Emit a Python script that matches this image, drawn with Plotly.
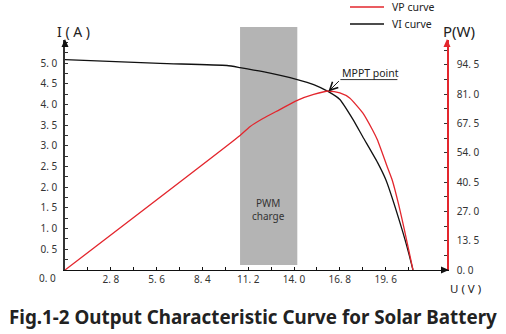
import plotly.graph_objects as go

# VI curve: module current (A) against terminal voltage (V)
vi_u = [0, 5.8, 9.9, 10.7, 12.1, 14.2, 15.2, 16.1, 16.8, 17.6, 18.2, 19.1, 19.6, 20.6, 21.0, 21.27]
vi_i = [5.08, 4.99, 4.94, 4.89, 4.79, 4.60, 4.48, 4.31, 4.12, 3.64, 3.22, 2.60, 2.19, 0.98, 0.42, 0.0]

# VP curve: output power (W) against terminal voltage (V)
vp_u = [0, 10.7, 11.3, 12.1, 13.1, 14.2, 15.2, 16.1, 16.8, 17.4, 18.2, 18.8, 19.1,
        19.7, 20.0, 20.4, 20.75, 20.97, 21.27]
vp_p = [0, 62.0, 66.0, 69.8, 73.8, 78.2, 80.9, 82.5, 81.6, 79.3, 72.4, 64.5, 59.9,
        47.5, 41.5, 30.0, 18.4, 10.6, 0]

# maximum power point and PWM charging band
mppt_u, mppt_i = 16.1, 4.31
pwm_band = (10.7, 14.2)

# axis ticks
u_ticks = [round(1.4 * k, 1) for k in range(1, 16)]
i_ticks = [round(0.25 * k, 2) for k in range(1, 23)]
p_ticks = [round(6.75 * k, 2) for k in range(0, 16)]

U_MAX, I_MAX, P_MAX = 23.35, 5.556, 106.0

RED = "#e3262d"
INK = "#222222"
FONT = "Noto Sans"

# plot area geometry (pixels) used for paper-referenced decorations
L, R, T, B = 65, 59, 40, 64
W, H = 506, 334
PW, PH = W - L - R, H - T - B


def px(x):
    return (x - L) / PW


def py(y):
    return (H - B - y) / PH


def fmt(v):
    return f"{v:.1f}".replace(".", ". ")


u_text = [fmt(v) if k % 2 == 1 and v < 20 else "" for k, v in enumerate(u_ticks)]
i_text = [fmt(v) if k % 2 == 1 and v <= 5.0 else "" for k, v in enumerate(i_ticks)]
p_text = [fmt(v) if k % 2 == 0 and v < 100 else "" for k, v in enumerate(p_ticks)]

fig = go.Figure()
fig.add_trace(go.Scatter(x=vp_u, y=vp_p, yaxis="y2", mode="lines", name="VP curve",
                         line=dict(color=RED, width=1.3, shape="spline", smoothing=0.5)))
fig.add_trace(go.Scatter(x=vi_u, y=vi_i, mode="lines", name="VI curve",
                         line=dict(color="#111111", width=1.3, shape="spline", smoothing=0.5)))

# PWM charging band (extends a little above the plotting area)
fig.add_shape(type="rect", xref="paper", yref="paper", layer="below",
              x0=pwm_band[0] / U_MAX, x1=pwm_band[1] / U_MAX, y0=py(265), y1=py(27),
              fillcolor="#b4b4b4", line=dict(width=0))
fig.add_annotation(x=sum(pwm_band) / 2, y=1.45, xref="x", yref="y", text="PWM<br>charge",
                   showarrow=False, font=dict(family=FONT, size=10, color="#333333"))

# arrowheads on the three axes
fig.add_shape(type="path", xref="paper", yref="paper", xsizemode="pixel", ysizemode="pixel",
              xanchor=0, yanchor=1, path="M-3.5,-7L0,1L3.5,-7Z",
              fillcolor="#111111", line=dict(width=0))
fig.add_shape(type="path", xref="paper", yref="paper", xsizemode="pixel", ysizemode="pixel",
              xanchor=1, yanchor=1, path="M-3.5,-7L0,1L3.5,-7Z",
              fillcolor=RED, line=dict(width=0))
fig.add_shape(type="path", xref="paper", yref="paper", xsizemode="pixel", ysizemode="pixel",
              xanchor=1, yanchor=0, path="M-6,3.5L2,0L-6,-3.5Z",
              fillcolor="#111111", line=dict(width=0))

# legend
for name, color, ypix in [("VP curve", RED, 7), ("VI curve", "#111111", 24)]:
    fig.add_shape(type="line", xref="paper", yref="paper", x0=px(350), x1=px(384),
                  y0=py(ypix), y1=py(ypix), line=dict(color=color, width=1.3))
    fig.add_annotation(x=px(390), y=py(ypix), xref="paper", yref="paper", text=name,
                       showarrow=False, xanchor="left", yanchor="middle",
                       font=dict(family=FONT, size=10.5, color=INK))

# MPPT callout
fig.add_annotation(x=mppt_u, y=mppt_i, xref="x", yref="y", text="", showarrow=True,
                   ax=12, ay=-12, arrowhead=5, arrowsize=1.6, arrowwidth=1, arrowcolor="#111111")
fig.add_shape(type="line", xref="x", yref="y", xsizemode="pixel", ysizemode="pixel",
              xanchor=mppt_u, yanchor=mppt_i, x0=12, x1=69, y0=12, y1=12,
              line=dict(color="#333333", width=1))
fig.add_annotation(x=mppt_u, y=mppt_i, xref="x", yref="y", text="MPPT point", showarrow=False,
                   xanchor="left", yanchor="middle", xshift=12, yshift=19,
                   font=dict(family=FONT, size=10.5, color=INK))

# axis names and origin label
fig.add_annotation(x=px(73), y=py(31), xref="paper", yref="paper", text="I ( A )", showarrow=False,
                   xanchor="center", yanchor="middle", font=dict(family=FONT, size=14, color=INK))
fig.add_annotation(x=px(441), y=py(31), xref="paper", yref="paper", text="P(W)", showarrow=False,
                   xanchor="left", yanchor="middle", font=dict(family=FONT, size=15, color=INK))
fig.add_annotation(x=px(448), y=py(288), xref="paper", yref="paper", text="U ( V )",
                   showarrow=False, xanchor="left", yanchor="middle",
                   font=dict(family=FONT, size=11.5, color=INK))
fig.add_annotation(x=px(58), y=py(278), xref="paper", yref="paper", text="0. 0", showarrow=False,
                   xanchor="right", yanchor="middle",
                   font=dict(family=FONT, size=10, color="#333333"))

# caption
fig.add_annotation(x=px(253), y=py(317), xref="paper", yref="paper",
                   text="<b>Fig.1-2 Output Characteristic Curve for Solar Battery</b>",
                   showarrow=False, xanchor="center", yanchor="middle",
                   font=dict(family=FONT, size=18.8, color=INK))

fig.update_layout(
    width=W, height=H,
    margin=dict(l=L, r=R, t=T, b=B),
    paper_bgcolor="white", plot_bgcolor="white",
    showlegend=False,
    xaxis=dict(range=[0, U_MAX], showgrid=False, zeroline=False, showline=True,
               linecolor="#111111", linewidth=1.3, ticks="inside", ticklen=3,
               tickcolor="#111111", tickvals=u_ticks, ticktext=u_text,
               tickfont=dict(family=FONT, size=10, color="#333333")),
    yaxis=dict(range=[0, I_MAX], showgrid=False, zeroline=False, showline=True,
               linecolor="#333333", linewidth=1.5, ticks="inside", ticklen=3,
               tickcolor="#333333", tickvals=i_ticks, ticktext=i_text,
               ticklabelstandoff=4,
               tickfont=dict(family=FONT, size=10, color="#333333")),
    yaxis2=dict(range=[0, P_MAX], overlaying="y", side="right", showgrid=False,
                zeroline=False, showline=True, linecolor=RED, linewidth=1.5,
                ticks="inside", ticklen=3, tickcolor="#333333",
                tickvals=p_ticks, ticktext=p_text, ticklabelstandoff=6,
                tickfont=dict(family=FONT, size=10, color="#333333")),
)

fig.write_html("out.html")
